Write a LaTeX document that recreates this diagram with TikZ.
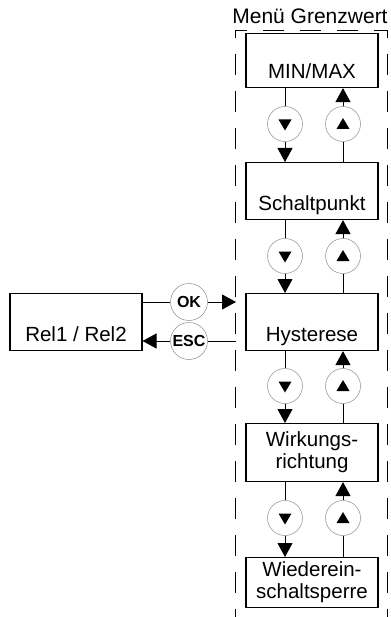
\documentclass[tikz,border=0pt]{standalone}
\usepackage{fontspec}
\setmainfont{Liberation Sans}
\usetikzlibrary{arrows.meta}
\begin{document}
\begin{tikzpicture}[x=1pt,y=-1pt,
  box/.style={draw, line width=1.1pt, minimum width=132pt, inner sep=0pt,
    font=\fontsize{20.5}{22}\selectfont, align=center},
  lowtext/.style={text height=#1, text depth=9pt},
  keyc/.style={circle, draw=black!45, line width=0.5pt, minimum size=35pt, inner sep=0pt},
  keyt/.style={keyc, minimum size=37pt, font=\bfseries\fontsize{16}{16}\selectfont},
  conn/.style={line width=0.9pt},
  tip/.style={-{Triangle[length=14pt,width=15pt]}},
  frameline/.style={line width=0.9pt, dash pattern=on 21pt off 16pt},
]
\useasboundingbox (0,0) rectangle (390,617);

% menu frame (open at the bottom)
\draw[frameline, dash phase=9pt] (235,30) -- (387,30);
\draw[frameline, dash phase=13pt] (235,30) -- (235,617);
\draw[frameline, dash phase=13pt] (387,30) -- (387,617);
\node[font=\fontsize{21}{22}\selectfont, anchor=base, inner sep=0pt] (title) at (310,24) {Menü Grenzwert};

% menu entries
\node[box, lowtext=45pt, anchor=north] (mm) at (312,33) {MIN/MAX};
\node[box, lowtext=48pt, anchor=north] (sp) at (312,162) {Schaltpunkt};
\node[box, lowtext=48pt, anchor=north] (hy) at (312,293) {Hysterese};
\node[box, minimum height=58pt, anchor=north] (wr) at (312,423) {Wirkungs-\\richtung};
\node[box, minimum height=50pt, anchor=north] (ws) at (312,557) {Wiederein-\\schaltsperre};
\node[box, lowtext=48pt, anchor=north] (rel) at (76,293) {Rel1 / Rel2};

% navigation keys between the entries
\foreach \n/\y in {1/124, 2/256, 3/386, 4/518} {
  \node[keyc] (d\n) at (285,\y) {};
  \node[keyc] (u\n) at (343,\y) {};
  \fill ([shift={(-6.5,-4.5)}]d\n.center) -- ++(13,0) -- ++(-6.5,11) -- cycle;
  \fill ([shift={(-6.5,5)}]u\n.center) -- ++(13,0) -- ++(-6.5,-11) -- cycle;
}
\foreach \n/\a/\b in {1/mm/sp, 2/sp/hy, 3/hy/wr, 4/wr/ws} {
  \draw[conn] (d\n |- \a.south) -- (d\n.north);
  \draw[conn, tip] (d\n.south) -- (d\n |- \b.north);
  \draw[conn] (u\n |- \b.north) -- (u\n.south);
  \draw[conn, tip] (u\n.north) -- (u\n |- \a.south);
}

% OK / ESC between Rel1 / Rel2 and the menu
\node[keyt] (ok) at (189,302) {OK};
\node[keyt] (esc) at (189,341) {ESC};
\coordinate (okin) at (236,302);
\coordinate (escout) at (236,341);
\draw[conn] (rel.east |- ok) -- (ok.west);
\draw[conn, tip] (ok.east) -- (okin);
\draw[conn] (escout) -- (esc.east);
\draw[conn, tip] (esc.west) -- (rel.east |- esc);
\end{tikzpicture}
\end{document}
